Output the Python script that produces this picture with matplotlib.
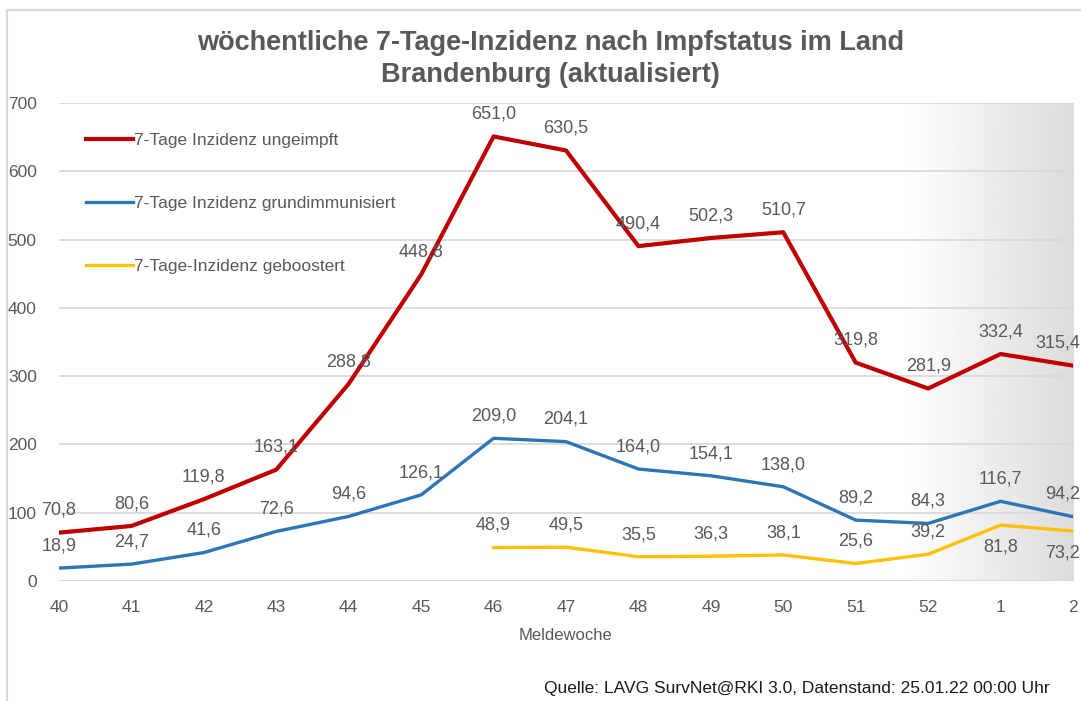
import numpy as np
import matplotlib.pyplot as plt
from matplotlib.lines import Line2D

plt.rcParams['font.family'] = ['Liberation Sans', 'DejaVu Sans']

weeks = ["40", "41", "42", "43", "44", "45", "46", "47", "48", "49", "50",
         "51", "52", "1", "2"]
ungeimpft = [70.8, 80.6, 119.8, 163.1, 288.8, 448.8, 651.0, 630.5, 490.4,
             502.3, 510.7, 319.8, 281.9, 332.4, 315.4]
grundimm = [18.9, 24.7, 41.6, 72.6, 94.6, 126.1, 209.0, 204.1, 164.0,
            154.1, 138.0, 89.2, 84.3, 116.7, 94.2]
geboostert_weeks = weeks[6:]
geboostert = [48.9, 49.5, 35.5, 36.3, 38.1, 25.6, 39.2, 81.8, 73.2]

GRAY = "#595959"
RED, BLUE, YELLOW = "#C00000", "#2E75B6", "#FFC000"

fig = plt.figure(figsize=(10.81, 7.01), dpi=100)
ax = fig.add_axes([59 / 1081, 1 - 581 / 701, (1073 - 59) / 1081, (581 - 103) / 701])

x = np.arange(len(weeks))
xb = np.arange(len(weeks) - len(geboostert), len(weeks))

# shaded region on the right (gradient white -> gray)
grad = np.linspace(1.0, 0.86, 256).reshape(1, -1)
ax.imshow(grad, extent=(11.66, 14, 0, 700), aspect="auto", cmap="gray",
          vmin=0, vmax=1, zorder=0, interpolation="bilinear")

ax.plot(x, ungeimpft, color=RED, lw=3.0, label="7-Tage Inzidenz ungeimpft", zorder=3)
ax.plot(x, grundimm, color=BLUE, lw=2.4, label="7-Tage Inzidenz grundimmunisiert", zorder=3)
ax.plot(xb, geboostert, color=YELLOW, lw=2.4, label="7-Tage-Inzidenz geboostert", zorder=3)


def fmt(v):
    return f"{v:.1f}".replace(".", ",")


def label(xi, v, dy, last):
    if last:
        # keep the labels of the last week inside the picture
        ax.annotate(fmt(v), (xi, v), xytext=(5, dy), textcoords="offset points",
                    ha="right", va="center", fontsize=13, color=GRAY, zorder=4)
    else:
        ax.annotate(fmt(v), (xi, v), xytext=(0, dy), textcoords="offset points",
                    ha="center", va="center", fontsize=13, color=GRAY, zorder=4)


last = len(weeks) - 1
for xi, v in zip(x, ungeimpft):
    label(xi, v, 16, xi == last)
for xi, v in zip(x, grundimm):
    label(xi, v, 16, xi == last)
for i, (xi, v) in enumerate(zip(xb, geboostert)):
    dy = -16 if i >= len(geboostert) - 2 else 16
    label(xi, v, dy, xi == last)

ax.set_xlim(0, len(weeks) - 1)
ax.set_ylim(0, 700)
ax.set_yticks(np.arange(0, 701, 100))
ax.set_xticks(x)
ax.set_xticklabels(weeks)
ax.grid(True, axis="y", color="#D9D9D9", lw=1.3, zorder=1)
ax.set_axisbelow(True)
for s in ax.spines.values():
    s.set_visible(False)
ax.tick_params(length=0, labelsize=12.5, colors=GRAY, pad=14)
ax.tick_params(axis="y", pad=16)
ax.set_xlabel("Meldewoche", fontsize=12, color=GRAY, labelpad=9)

ax.legend(loc="upper left", bbox_to_anchor=(0.011, 0.97), frameon=False,
          fontsize=12.5, labelcolor=GRAY, labelspacing=2.75,
          handlelength=2.7, handletextpad=0.1)

fig.text(0.509, 0.916, "wöchentliche 7-Tage-Inzidenz nach Impfstatus im Land\nBrandenburg (aktualisiert)",
         ha="center", va="center", fontsize=19.5, fontweight="bold", color=GRAY,
         linespacing=1.28)

fig.text(1050 / 1081, 1 - 688 / 701,
         "Quelle: LAVG SurvNet@RKI 3.0, Datenstand: 25.01.22 00:00 Uhr",
         ha="right", va="center", fontsize=12.5, color="#1a1a1a")

# chart frame (left and top edges)
fig.add_artist(Line2D([7 / 1081, 7 / 1081], [0, 1 - 10 / 701], color="#D9D9D9", lw=1.5))
fig.add_artist(Line2D([7 / 1081, 1], [1 - 10 / 701, 1 - 10 / 701], color="#D9D9D9", lw=1.5))

fig.savefig("out.png", dpi=100)
